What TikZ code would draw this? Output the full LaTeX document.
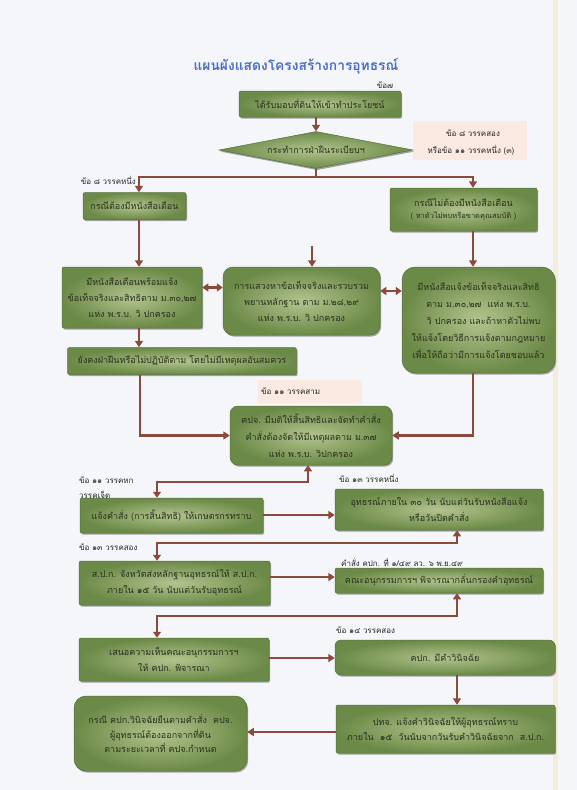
\documentclass[tikz,border=0pt]{standalone}
\usepackage{fontspec}
\newfontfamily\thai[Script=Thai]{Loma}
\usetikzlibrary{shapes.geometric,shadows,arrows.meta}
\definecolor{bg}{HTML}{F4F6FA}
\definecolor{ginner}{HTML}{B2C48E}
\definecolor{gouter}{HTML}{6C8A47}
\definecolor{gborder}{HTML}{56703A}
\definecolor{gtext}{HTML}{2A301E}
\definecolor{brn}{HTML}{8B4A3B}
\definecolor{pinkbg}{HTML}{FBEAE2}
\definecolor{titleblue}{HTML}{4A6DC3}
\definecolor{stripe}{HTML}{F6ECDD}
\begin{document}
\begin{tikzpicture}[x=1pt,y=-1pt,
  font=\thai\fontsize{9}{16}\selectfont,
  gbox/.style={draw=gborder, line width=0.5pt, inner color=ginner, outer color=gouter,
    rounded corners=2pt, text=gtext, align=center, inner sep=2pt,
    drop shadow={shadow xshift=1.2pt, shadow yshift=-1.6pt, fill=black, opacity=0.35}},
  rbox/.style={gbox, rounded corners=10pt},
  lbl/.style={font=\thai\fontsize{8}{13}\selectfont, text=black!85, inner sep=0pt},
  ln/.style={draw=brn, line width=2.4pt},
  arr/.style={ln, -{Triangle[length=6.5pt,width=8pt]}},
  darr/.style={ln, {Triangle[length=6pt,width=8pt]}-{Triangle[length=6pt,width=8pt]}},
  pinkbox/.style={fill=pinkbg, draw=none}
]
\useasboundingbox (0,0) rectangle (577,790);
\fill[bg] (0,0) rectangle (577,790);
\fill[stripe] (553,0) rectangle (558,790);
\fill[black!4] (565,0) rectangle (567,790);

% coordinates for connector columns
\coordinate (xl) at (139,0);
\coordinate (xr) at (473,0);
\coordinate (xa) at (308,0);
\coordinate (xb) at (157,0);
\coordinate (xc) at (457,0);
\coordinate (xg) at (140,0);
\coordinate (xe) at (312,0);

% title
\node[font=\thai\fontsize{13.8}{18}\selectfont\bfseries, text=titleblue] (title) at (296,66) {แผนผังแสดงโครงสร้างการอุทธรณ์};
\node[lbl] (l7) at (385,85) {ข้อ๗};

% pink labels
\node[pinkbox, minimum width=114pt, minimum height=39pt] (pk1) at (470,140.5) {};
\node[lbl] (pk1a) at (473,133) {ข้อ ๘ วรรคสอง};
\node[lbl] (pk1b) at (471,150) {หรือข้อ ๑๑ วรรคหนึ่ง (๓)};
\node[pinkbox, minimum width=104pt, minimum height=23pt] (pk2) at (310,391.5) {};
\node[lbl, anchor=west] (pk2a) at (261,391.5) {ข้อ ๑๑ วรรคสาม};

% boxes
\node[gbox, minimum width=162pt, minimum height=26pt] (A) at (320,104) {ได้รับมอบที่ดินให้เข้าทำประโยชน์};
\node[diamond, draw=gborder, line width=0.5pt, inner color=ginner, outer color=gouter, text=gtext,
  minimum width=194pt, minimum height=37pt, inner sep=0pt, aspect=5.2,
  drop shadow={shadow xshift=1.2pt, shadow yshift=-1.6pt, fill=black, opacity=0.35}] (D0) at (316,150) {กระทำการฝ่าฝืนระเบียบฯ};
\node[gbox, minimum width=103pt, minimum height=27pt] (B) at (134.5,206) {กรณีต้องมีหนังสือเตือน};
\node[gbox, minimum width=147pt, minimum height=43pt] (C) at (463.5,209.5) {กรณีไม่ต้องมีหนังสือเตือน\\[-4pt]{\fontsize{7.5}{10}\selectfont ( หาตัวไม่พบหรือขาดคุณสมบัติ )}};
\node[gbox, minimum width=140pt, minimum height=61pt] (D) at (132,297.5) {มีหนังสือเตือนพร้อมแจ้ง\\ข้อเท็จจริงและสิทธิตาม ม.๓๐,๒๗\\แห่ง พ.ร.บ. วิ ปกครอง};
\node[rbox, minimum width=157pt, minimum height=68pt] (E) at (301.5,301) {การแสวงหาข้อเท็จจริงและรวบรวม\\พยานหลักฐาน ตาม ม.๒๘,๒๙\\แห่ง พ.ร.บ. วิ ปกครอง};
\node[rbox, rounded corners=13pt, minimum width=153pt, minimum height=106pt, font=\thai\fontsize{9}{17}\selectfont] (F) at (478.5,320) {มีหนังสือแจ้งข้อเท็จจริงและสิทธิ\\ตาม ม.๓๐,๒๗~~แห่ง พ.ร.บ.\\\hspace*{10pt}วิ ปกครอง และถ้าหาตัวไม่พบ\\ให้แจ้งโดยวิธีการแจ้งตามกฎหมาย\\เพื่อให้ถือว่ามีการแจ้งโดยชอบแล้ว};
\node[gbox, minimum width=229pt, minimum height=27pt] (G) at (182,361) {ยังคงฝ่าฝืนหรือไม่ปฏิบัติตาม โดยไม่มีเหตุผลอันสมควร};
\node[rbox, rounded corners=8pt, minimum width=162pt, minimum height=59pt, font=\thai\fontsize{9}{17}\selectfont] (H) at (311,435.5) {คปจ. มีมติให้สิ้นสิทธิและจัดทำคำสั่ง\\คำสั่งต้องจัดให้มีเหตุผลตาม ม.๓๗\\แห่ง พ.ร.บ. วิปกครอง};
\node[gbox, minimum width=183pt, minimum height=35pt] (I) at (171.5,515.5) {แจ้งคำสั่ง (การสิ้นสิทธิ) ให้เกษตรกรทราบ};
\node[gbox, minimum width=208pt, minimum height=41pt] (J) at (439,509.5) {อุทธรณ์ภายใน ๓๐ วัน นับแต่วันรับหนังสือแจ้ง\\หรือวันปิดคำสั่ง};
\node[gbox, minimum width=191pt, minimum height=44pt] (K) at (174.5,583) {ส.ป.ก. จังหวัดส่งหลักฐานอุทธรณ์ให้ ส.ป.ก.\\ภายใน ๑๕ วัน นับแต่วันรับอุทธรณ์};
\node[gbox, minimum width=208pt, minimum height=25pt] (L) at (439,580.5) {คณะอนุกรรมการฯ พิจารณากลั่นกรองคำอุทธรณ์};
\node[gbox, minimum width=190pt, minimum height=43pt] (M) at (174,659.5) {เสนอความเห็นคณะอนุกรรมการฯ\\ให้ คปก. พิจารณา};
\node[gbox, rounded corners=6pt, minimum width=220pt, minimum height=35pt] (N) at (445,657.5) {คปก. มีคำวินิจฉัย};
\node[gbox, minimum width=219pt, minimum height=48pt, font=\thai\fontsize{9}{15}\selectfont] (O) at (445.5,729) {ปทจ. แจ้งคำวินิจฉัยให้ผู้อุทธรณ์ทราบ\\ภายใน~~๑๕~~วันนับจากวันรับคำวินิจฉัยจาก~~ส.ป.ก.};
\node[rbox, rounded corners=12pt, minimum width=173pt, minimum height=75pt, font=\thai\fontsize{9}{14.5}\selectfont] (P) at (160.5,733.5) {กรณี คปก.วินิจฉัยยืนตามคำสั่ง~~คปจ.\\ผู้อุทธรณ์ต้องออกจากที่ดิน\\ตามระยะเวลาที่ คปจ.กำหนด};

% side labels
\node[lbl, anchor=east] (l8a) at (136,180) {ข้อ ๘ วรรคหนึ่ง};
\node[lbl, anchor=west] (l11a) at (79,480) {ข้อ ๑๑ วรรคหก};
\node[lbl, anchor=west] (l11b) at (79,495) {วรรคเจ็ด};
\node[lbl, anchor=west] (l13a) at (339,478) {ข้อ ๑๓ วรรคหนึ่ง};
\node[lbl, anchor=west] (l13b) at (79,547) {ข้อ ๑๓ วรรคสอง};
\node[lbl, anchor=west] (lcmd) at (341,562) {คำสั่ง คปก. ที่ ๑/๔๙ ลว. ๖ พ.ย.๔๙};
\node[lbl, anchor=west] (l14) at (336,630) {ข้อ ๑๔ วรรคสอง};

% connectors
\coordinate (j1) at (316,177);
\coordinate (eTop) at (312,246);
\coordinate (yde) at (0,287.5);
\coordinate (yef) at (0,291);
\coordinate (yij) at (0,515);
\coordinate (ykl) at (0,577);
\coordinate (ymn) at (0,658);
\coordinate (yop) at (0,732);

\draw[arr] (A.south -| D0.north) -- (D0.north);
\draw[ln] (D0.south) -- (j1);
\draw[arr] (j1) -| (B.north -| xl);
\draw[arr] (j1) -| (C.north -| xr);
\draw[arr] (B.south -| xl) -- (D.north -| xl);
\draw[arr] (eTop) -- (E.north -| eTop);
\draw[darr] (D.east |- yde) -- (E.west |- yde);
\draw[darr] (E.east |- yef) -- (F.west |- yef);
\draw[arr] (C.south -| xr) -- (F.north -| xr);
\draw[arr] (D.south -| xl) -- (G.north -| xl);
\draw[arr] (G.south -| xg) |- (H.west);
\draw[arr] (F.south -| xr) |- (H.east);
\draw[darr] (H.south -| xa) -- ++(0,17) -| (I.north -| xb);
\draw[arr] (I.east |- yij) -- (J.west |- yij);
\draw[darr] (J.south -| xc) -- ++(0,13) -| (K.north -| xb);
\draw[arr] (K.east |- ykl) -- (L.west |- ykl);
\draw[darr] (L.south -| xc) -- ++(0,23) -| (M.north -| xb);
\draw[arr] (M.east |- ymn) -- (N.west |- ymn);
\draw[arr] (N.south -| xc) -- (O.north -| xc);
\draw[arr] (O.west |- yop) -- (P.east |- yop);
\end{tikzpicture}
\end{document}
